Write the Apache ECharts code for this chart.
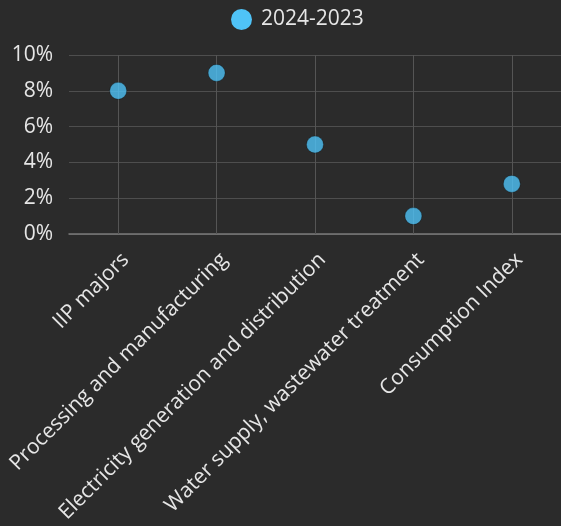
<!DOCTYPE html>
<html><head><meta charset="utf-8">
<script src="https://cdn.jsdelivr.net/npm/echarts@6/dist/echarts.min.js"></script>
<style>html,body{margin:0;padding:0;background:#2b2b2b}#c{width:561px;height:526px}</style>
</head><body><div id="c"></div>
<script>
const categories = ["IIP majors","Processing and manufacturing","Electricity generation and distribution","Water supply, wastewater treatment","Consumption Index"];
const seriesName = "2024-2023";
const values = [8, 9, 5, 1, 2.8];
const yTicks = [0, 2, 4, 6, 8, 10];

const chart = echarts.init(document.getElementById('c'));
chart.setOption({
  backgroundColor: '#2b2b2b',
  textStyle: { fontFamily: 'Open Sans' },
  legend: {
    top: 4, left: 226, itemWidth: 21, itemHeight: 21, itemGap: 10,
    textStyle: { color: '#e6e6e6', fontSize: 21, fontFamily: 'Open Sans', padding: [0, 0, 0, 4] },
    data: [{ name: seriesName, icon: 'circle', itemStyle: { color: '#4fc3f7', opacity: 1, borderWidth: 0 } }]
  },
  grid: { left: 69, top: 55, width: 495, height: 179, containLabel: false },
  xAxis: {
    type: 'category', data: categories, boundaryGap: true,
    axisLine: { lineStyle: { color: '#7a7a7a', width: 1.5 } },
    axisTick: { show: true, alignWithLabel: true, inside: true, length: 179, lineStyle: { color: '#555555' } },
    splitLine: { show: false },
    axisLabel: { rotate: 45, color: '#e6e6e6', fontSize: 21, fontFamily: 'Open Sans', margin: 15, interval: 0, verticalAlign: 'top' }
  },
  yAxis: {
    type: 'value', min: yTicks[0], max: yTicks[yTicks.length - 1], interval: 2,
    axisLine: { show: false }, axisTick: { show: false },
    splitLine: { lineStyle: { color: '#4e4e4e' } },
    axisLabel: { formatter: '{value}%', color: '#e6e6e6', fontSize: 21, fontFamily: 'Open Sans', margin: 16 }
  },
  series: [{
    name: seriesName, type: 'scatter', data: values, symbolSize: 17,
    itemStyle: { color: '#4fc3f7', opacity: 0.8, borderColor: 'rgba(0,0,0,0.35)', borderWidth: 1 }
  }]
});
</script></body></html>
